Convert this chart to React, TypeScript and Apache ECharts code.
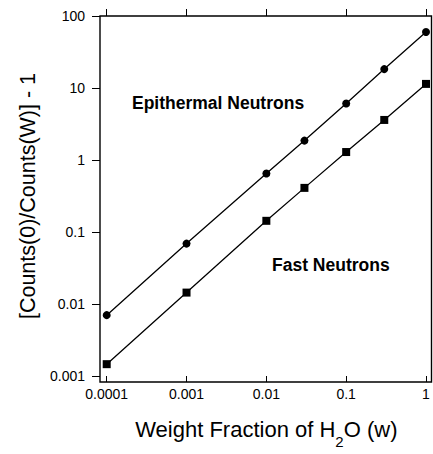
import React, { useEffect, useRef } from "react";
import * as echarts from "echarts";

const xValues = [0.0001, 0.001, 0.01, 0.03, 0.1, 0.3, 1];
const epithermal = [0.0070, 0.069, 0.65, 1.86, 6.1, 18.3, 60];
const fast = [0.00146, 0.0144, 0.143, 0.41, 1.29, 3.6, 11.4];
const xTickLabels = ["0.0001", "0.001", "0.01", "0.1", "1"];
const yTickLabels = ["0.001", "0.01", "0.1", "1", "10", "100"];
const xMinExp = -4;
const yMinExp = -3;

const FONT = "'Liberation Sans', Arial, Helvetica, sans-serif";

export default function App() {
  const ref = useRef<HTMLDivElement>(null);
  useEffect(() => {
    if (!ref.current) return;
    const chart = echarts.init(ref.current, null, { renderer: "svg" });
    const xLabel = (v: number) => {
      const i = Math.round(Math.log10(v)) - xMinExp;
      return xTickLabels[i] ?? "";
    };
    const yLabel = (v: number) => {
      const i = Math.round(Math.log10(v)) - yMinExp;
      return yTickLabels[i] ?? "";
    };
    const axisCommon = {
      type: "log" as const,
      logBase: 10,
      axisLine: { show: false },
      splitLine: { show: false },
      minorTick: { show: false },
    };
    chart.setOption({
      animation: false,
      backgroundColor: "#ffffff",
      grid: { left: 106.7, right: 7, top: 16, bottom: 72, containLabel: false },
      xAxis: [
        {
          ...axisCommon,
          position: "bottom",
          min: 0.0001,
          max: 1,
          axisTick: { show: true, inside: false, length: 6, lineStyle: { color: "#000", width: 1 } },
          axisLabel: {
            formatter: xLabel,
            fontSize: 14,
            color: "#000",
            fontFamily: FONT,
            margin: 11,
          },
          name: "Weight Fraction of H{sub|2}O (w)",
          nameLocation: "middle",
          nameGap: 34,
          nameTextStyle: {
            fontSize: 22,
            color: "#000",
            fontFamily: FONT,
            lineHeight: 39,
            rich: {
              sub: { fontSize: 15, lineHeight: 15, verticalAlign: "bottom", fontFamily: FONT, color: "#000" },
            },
          },
        },
        {
          ...axisCommon,
          position: "top",
          min: 0.0001,
          max: 1,
          axisTick: { show: true, inside: false, length: 7, lineStyle: { color: "#000", width: 1 } },
          axisLabel: { show: false },
        },
      ],
      yAxis: [
        {
          ...axisCommon,
          position: "left",
          offset: 6.7,
          min: 0.001,
          max: 100,
          axisTick: { show: true, inside: false, length: 8, lineStyle: { color: "#000", width: 1 } },
          axisLabel: {
            formatter: yLabel,
            fontSize: 14,
            color: "#000",
            fontFamily: FONT,
            margin: 15,
          },
          name: "[Counts(0)/Counts(W)] - 1",
          nameLocation: "middle",
          nameGap: 56,
          nameTextStyle: { fontSize: 21.5, color: "#000", fontFamily: FONT },
        },
      ],
      graphic: [
        {
          type: "rect",
          shape: { x: 100, y: 16, width: 331.5, height: 366 },
          style: { fill: "none", stroke: "#000", lineWidth: 1.4 },
          silent: true,
        },
        {
          type: "text",
          left: 132,
          top: 94,
          style: {
            text: "Epithermal Neutrons",
            font: `bold 17.5px ${FONT}`,
            fill: "#000",
          },
        },
        {
          type: "text",
          left: 272,
          top: 256,
          style: {
            text: "Fast Neutrons",
            font: `bold 17.5px ${FONT}`,
            fill: "#000",
          },
        },
      ],
      series: [
        {
          name: "Epithermal Neutrons",
          type: "line",
          data: xValues.map((x, i) => [x, epithermal[i]]),
          symbol: "circle",
          symbolSize: 8,
          showSymbol: true,
          itemStyle: { color: "#000" },
          lineStyle: { color: "#000", width: 1.3 },
        },
        {
          name: "Fast Neutrons",
          type: "line",
          data: xValues.map((x, i) => [x, fast[i]]),
          symbol: "rect",
          symbolSize: 8,
          showSymbol: true,
          itemStyle: { color: "#000" },
          lineStyle: { color: "#000", width: 1.3 },
        },
      ],
    });
    return () => chart.dispose();
  }, []);
  return (
    <div
      ref={ref}
      style={{ position: "fixed", left: 0, top: 0, width: 433, height: 454, background: "#fff" }}
    />
  );
}
